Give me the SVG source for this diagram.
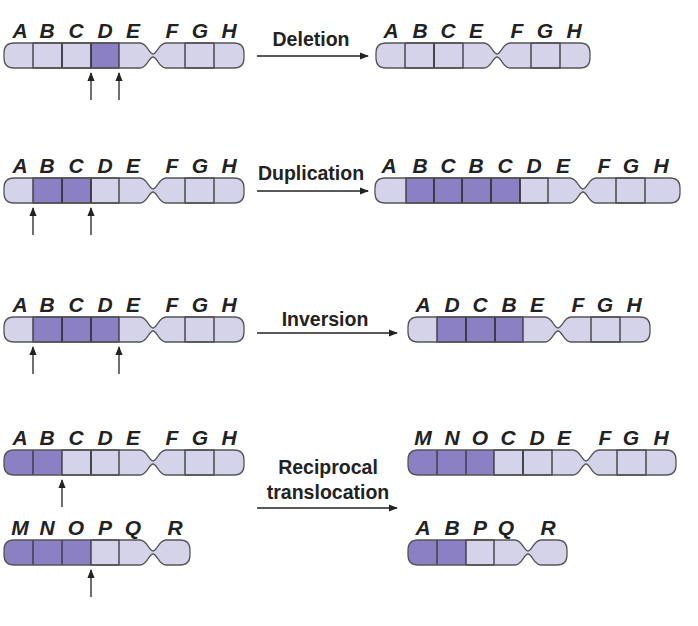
<svg xmlns="http://www.w3.org/2000/svg" width="698" height="626" viewBox="0 0 698 626">
<style>
.lt{fill:#d5d3ea}.dk{fill:#8a80c3}.bx{fill:none;stroke:#333;stroke-width:1.3}.ol{fill:none;stroke:#555;stroke-width:1.3}
.l{font-family:"Liberation Sans",Arial,sans-serif;font-weight:bold;font-style:italic;font-size:21px;fill:#222;text-anchor:middle}
.t{font-family:"Liberation Sans",Arial,sans-serif;font-weight:bold;font-size:19.5px;fill:#222;text-anchor:middle}
.a{stroke:#222;stroke-width:1.3;fill:none}
</style>
<defs>
<marker id="ah" viewBox="0 0 10 10" refX="9" refY="5" markerWidth="7" markerHeight="7" orient="auto-start-reverse"><path d="M0,1 L10,5 L0,9 Z" fill="#222"/></marker>
<path id="c1" d="M14,43 L140,43 C147,43 149,54 153,54 C157,54 159,43 166,43 L234,43 Q244,43 244,53 L244,58 Q244,68 234,68 L166,68 C159,68 157,57 153,57 C149,57 147,68 140,68 L14,68 Q4,68 4,58 L4,53 Q4,43 14,43 Z"/>
<path id="c2" d="M386,43 L484,43 C491,43 493,54 497,54 C501,54 503,43 510,43 L580,43 Q590,43 590,53 L590,58 Q590,68 580,68 L510,68 C503,68 501,57 497,57 C493,57 491,68 484,68 L386,68 Q376,68 376,58 L376,53 Q376,43 386,43 Z"/>
<path id="c3" d="M385,178 L570,178 C577,178 579,189 583,189 C587,189 589,178 596,178 L670,178 Q680,178 680,188 L680,193 Q680,203 670,203 L596,203 C589,203 587,192 583,192 C579,192 577,203 570,203 L385,203 Q375,203 375,193 L375,188 Q375,178 385,178 Z"/>
<path id="c4" d="M418,317 L545,317 C552,317 554,328 558,328 C562,328 564,317 571,317 L640,317 Q650,317 650,327 L650,332 Q650,342 640,342 L571,342 C564,342 562,331 558,331 C554,331 552,342 545,342 L418,342 Q408,342 408,332 L408,327 Q408,317 418,317 Z"/>
<path id="c5" d="M14,540 L140,540 C147,540 149,551 153,551 C157,551 159,540 166,540 L180,540 Q190,540 190,550 L190,555 Q190,565 180,565 L166,565 C159,565 157,554 153,554 C149,554 147,565 140,565 L14,565 Q4,565 4,555 L4,550 Q4,540 14,540 Z"/>
<path id="c6" d="M418,450 L573,450 C580,450 582,461 586,461 C590,461 592,450 599,450 L666,450 Q676,450 676,460 L676,465 Q676,475 666,475 L599,475 C592,475 590,464 586,464 C582,464 580,475 573,475 L418,475 Q408,475 408,465 L408,460 Q408,450 418,450 Z"/>
<path id="c7" d="M418,540 L515,540 C522,540 524,551 528,551 C532,551 534,540 541,540 L557,540 Q567,540 567,550 L567,555 Q567,565 557,565 L541,565 C534,565 532,554 528,554 C524,554 522,565 515,565 L418,565 Q408,565 408,555 L408,550 Q408,540 418,540 Z"/>
<clipPath id="k5"><use href="#c5"/></clipPath>
<clipPath id="k6"><use href="#c6"/></clipPath>
<clipPath id="k7"><use href="#c7"/></clipPath>
<clipPath id="kt"><use href="#c1" y="407"/></clipPath>
</defs>

<g id="del-before">
<use href="#c1" class="lt"/>
<rect x="91" y="43" width="28" height="25" class="dk"/>
<rect x="33" y="43" width="29" height="25" class="bx"/><rect x="62" y="43" width="29" height="25" class="bx"/><rect x="91" y="43" width="28" height="25" class="bx"/><rect x="185" y="43" width="29" height="25" class="bx"/>
<use href="#c1" class="ol"/>
<text y="38" class="l"><tspan x="20">A</tspan><tspan x="47">B</tspan><tspan x="76">C</tspan><tspan x="105">D</tspan><tspan x="133">E</tspan><tspan x="172">F</tspan><tspan x="200">G</tspan><tspan x="229">H</tspan></text>
</g>
<g id="del-after">
<use href="#c2" class="lt"/>
<rect x="405" y="43" width="29" height="25" class="bx"/><rect x="434" y="43" width="29" height="25" class="bx"/><rect x="531" y="43" width="29" height="25" class="bx"/>
<use href="#c2" class="ol"/>
<text y="38" class="l"><tspan x="391">A</tspan><tspan x="420">B</tspan><tspan x="448">C</tspan><tspan x="476">E</tspan><tspan x="517">F</tspan><tspan x="545">G</tspan><tspan x="574">H</tspan></text>
</g>

<g id="dup-before">
<use href="#c1" y="135" class="lt"/>
<rect x="33" y="178" width="58" height="25" class="dk"/>
<rect x="33" y="178" width="29" height="25" class="bx"/><rect x="62" y="178" width="29" height="25" class="bx"/><rect x="91" y="178" width="28" height="25" class="bx"/><rect x="185" y="178" width="29" height="25" class="bx"/>
<use href="#c1" y="135" class="ol"/>
<text y="173" class="l"><tspan x="20">A</tspan><tspan x="47">B</tspan><tspan x="76">C</tspan><tspan x="105">D</tspan><tspan x="133">E</tspan><tspan x="172">F</tspan><tspan x="200">G</tspan><tspan x="229">H</tspan></text>
</g>
<g id="dup-after">
<use href="#c3" class="lt"/>
<rect x="406" y="178" width="114" height="25" class="dk"/>
<rect x="406" y="178" width="28" height="25" class="bx"/><rect x="434" y="178" width="28" height="25" class="bx"/><rect x="462" y="178" width="29" height="25" class="bx"/><rect x="491" y="178" width="29" height="25" class="bx"/><rect x="520" y="178" width="28" height="25" class="bx"/><rect x="616" y="178" width="29" height="25" class="bx"/>
<use href="#c3" class="ol"/>
<text y="173" class="l"><tspan x="389">A</tspan><tspan x="420">B</tspan><tspan x="448">C</tspan><tspan x="476">B</tspan><tspan x="505">C</tspan><tspan x="534">D</tspan><tspan x="563">E</tspan><tspan x="604">F</tspan><tspan x="631">G</tspan><tspan x="661">H</tspan></text>
</g>

<g id="inv-before">
<use href="#c1" y="274" class="lt"/>
<rect x="33" y="317" width="86" height="25" class="dk"/>
<rect x="33" y="317" width="29" height="25" class="bx"/><rect x="62" y="317" width="29" height="25" class="bx"/><rect x="91" y="317" width="28" height="25" class="bx"/><rect x="185" y="317" width="29" height="25" class="bx"/>
<use href="#c1" y="274" class="ol"/>
<text y="312" class="l"><tspan x="20">A</tspan><tspan x="47">B</tspan><tspan x="76">C</tspan><tspan x="105">D</tspan><tspan x="133">E</tspan><tspan x="172">F</tspan><tspan x="200">G</tspan><tspan x="229">H</tspan></text>
</g>
<g id="inv-after">
<use href="#c4" class="lt"/>
<rect x="437" y="317" width="86" height="25" class="dk"/>
<rect x="437" y="317" width="29" height="25" class="bx"/><rect x="466" y="317" width="29" height="25" class="bx"/><rect x="495" y="317" width="28" height="25" class="bx"/><rect x="591" y="317" width="29" height="25" class="bx"/>
<use href="#c4" class="ol"/>
<text y="312" class="l"><tspan x="423">A</tspan><tspan x="452">D</tspan><tspan x="480">C</tspan><tspan x="509">B</tspan><tspan x="537">E</tspan><tspan x="578">F</tspan><tspan x="605">G</tspan><tspan x="634">H</tspan></text>
</g>

<g id="trans-before-1">
<use href="#c1" y="407" class="lt"/>
<rect x="0" y="450" width="62" height="25" class="dk" clip-path="url(#kt)"/>
<line x1="33" y1="450" x2="33" y2="475" class="bx"/><rect x="62" y="450" width="29" height="25" class="bx"/><rect x="91" y="450" width="28" height="25" class="bx"/><rect x="185" y="450" width="29" height="25" class="bx"/>
<use href="#c1" y="407" class="ol"/>
<text y="445" class="l"><tspan x="20">A</tspan><tspan x="47">B</tspan><tspan x="76">C</tspan><tspan x="105">D</tspan><tspan x="133">E</tspan><tspan x="172">F</tspan><tspan x="200">G</tspan><tspan x="229">H</tspan></text>
</g>
<g id="trans-before-2">
<use href="#c5" class="lt"/>
<rect x="0" y="540" width="91" height="25" class="dk" clip-path="url(#k5)"/>
<line x1="33" y1="540" x2="33" y2="565" class="bx"/><line x1="62" y1="540" x2="62" y2="565" class="bx"/><rect x="91" y="540" width="28" height="25" class="bx"/>
<use href="#c5" class="ol"/>
<text y="535" class="l"><tspan x="20">M</tspan><tspan x="47">N</tspan><tspan x="76">O</tspan><tspan x="105">P</tspan><tspan x="133">Q</tspan><tspan x="175">R</tspan></text>
</g>
<g id="trans-after-1">
<use href="#c6" class="lt"/>
<rect x="400" y="450" width="94" height="25" class="dk" clip-path="url(#k6)"/>
<line x1="437" y1="450" x2="437" y2="475" class="bx"/><line x1="466" y1="450" x2="466" y2="475" class="bx"/><rect x="494" y="450" width="29" height="25" class="bx"/><rect x="523" y="450" width="29" height="25" class="bx"/><rect x="617" y="450" width="29" height="25" class="bx"/>
<use href="#c6" class="ol"/>
<text y="445" class="l"><tspan x="423">M</tspan><tspan x="452">N</tspan><tspan x="480">O</tspan><tspan x="508">C</tspan><tspan x="537">D</tspan><tspan x="564">E</tspan><tspan x="605">F</tspan><tspan x="631">G</tspan><tspan x="661">H</tspan></text>
</g>
<g id="trans-after-2">
<use href="#c7" class="lt"/>
<rect x="400" y="540" width="66" height="25" class="dk" clip-path="url(#k7)"/>
<line x1="437" y1="540" x2="437" y2="565" class="bx"/><rect x="466" y="540" width="28" height="25" class="bx"/>
<use href="#c7" class="ol"/>
<text y="535" class="l"><tspan x="423">A</tspan><tspan x="452">B</tspan><tspan x="480">P</tspan><tspan x="506">Q</tspan><tspan x="548">R</tspan></text>
</g>

<g id="connectors">
<line x1="257" y1="56" x2="368" y2="56" class="a" marker-end="url(#ah)"/>
<line x1="257" y1="191" x2="368" y2="191" class="a" marker-end="url(#ah)"/>
<line x1="257" y1="333" x2="397" y2="333" class="a" marker-end="url(#ah)"/>
<line x1="257" y1="508" x2="397" y2="508" class="a" marker-end="url(#ah)"/>
<line x1="91" y1="100" x2="91" y2="73" class="a" marker-end="url(#ah)"/>
<line x1="119" y1="100" x2="119" y2="73" class="a" marker-end="url(#ah)"/>
<line x1="33" y1="235" x2="33" y2="208" class="a" marker-end="url(#ah)"/>
<line x1="91" y1="235" x2="91" y2="208" class="a" marker-end="url(#ah)"/>
<line x1="33" y1="374" x2="33" y2="347" class="a" marker-end="url(#ah)"/>
<line x1="119" y1="374" x2="119" y2="347" class="a" marker-end="url(#ah)"/>
<line x1="62" y1="507" x2="62" y2="480" class="a" marker-end="url(#ah)"/>
<line x1="91" y1="597" x2="91" y2="570" class="a" marker-end="url(#ah)"/>
</g>
<g id="labels">
<text x="311" y="46" class="t">Deletion</text>
<text x="311" y="180" class="t">Duplication</text>
<text x="325" y="326" class="t">Inversion</text>
<text x="328" y="474" class="t">Reciprocal</text>
<text x="328" y="499" class="t">translocation</text>
</g>
</svg>
